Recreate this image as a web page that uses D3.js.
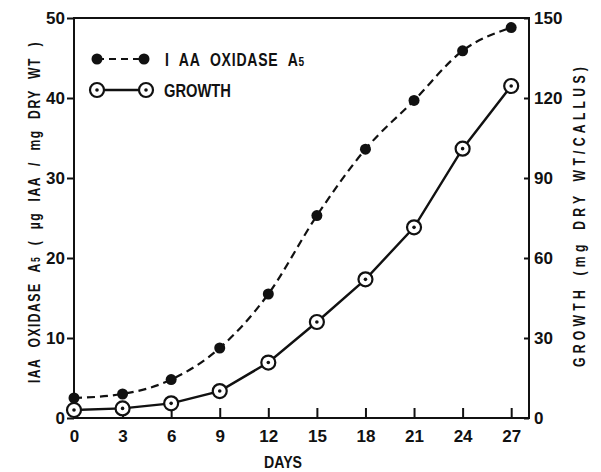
<!DOCTYPE html>
<html>
<head>
<meta charset="utf-8">
<script src="https://cdn.jsdelivr.net/npm/d3@7"></script>
<style>
  body { margin: 0; background: #fff; }
  text { font-family: "Liberation Sans", Arial, sans-serif; font-weight: bold; fill: #111; }
</style>
</head>
<body>
<svg width="601" height="472"></svg>
<script>
// data
const days = [0, 3, 6, 9, 12, 15, 18, 21, 24, 27];
const oxidase = [2.5, 3.0, 4.8, 8.75, 15.5, 25.3, 33.6, 39.7, 45.9, 48.8];   // left axis
const growth = [3.0, 3.6, 5.5, 10.1, 20.8, 36.0, 52.0, 71.5, 101, 124.5];    // right axis
const leftTicks = [0, 10, 20, 30, 40, 50];
const rightTicks = [0, 30, 60, 90, 120, 150];

const svg = d3.select('svg');
const ink = '#111';

// plot box
const x = d3.scaleLinear().domain([0, 28.1]).range([74, 529]);
const yL = d3.scaleLinear().domain([0, 50]).range([418, 18]);
const yR = d3.scaleLinear().domain([0, 150]).range([418, 18]);

// frame
svg.append('rect')
  .attr('x', 74).attr('y', 18)
  .attr('width', 455).attr('height', 400)
  .attr('fill', 'none').attr('stroke', ink).attr('stroke-width', 2);

// axes
const xAxis = svg.append('g')
  .attr('transform', 'translate(0,418)')
  .call(d3.axisBottom(x).tickValues(days).tickSize(-10).tickPadding(12));

const lAxis = svg.append('g')
  .attr('transform', 'translate(74,0)')
  .call(d3.axisLeft(yL).tickValues(leftTicks).tickSize(7).tickPadding(2));

const rAxis = svg.append('g')
  .attr('transform', 'translate(529,0)')
  .call(d3.axisRight(yR).tickValues(rightTicks).tickSize(-5).tickPadding(5));

[xAxis, lAxis, rAxis].forEach(a => {
  a.select('.domain').remove();
  a.selectAll('line').attr('stroke', ink).attr('stroke-width', 2);
  a.selectAll('text').style('font-size', '17px')
    .style('font-family', '"Liberation Sans", Arial, sans-serif')
    .style('font-weight', 'bold').attr('fill', ink);
});

// lines: dashed one smooth, growth drawn point to point
const lineL = d3.line().x((d, i) => x(days[i])).y(d => yL(d)).curve(d3.curveMonotoneX);
const lineR = d3.line().x((d, i) => x(days[i])).y(d => yR(d));

svg.append('path')
  .attr('d', lineL(oxidase))
  .attr('fill', 'none').attr('stroke', ink).attr('stroke-width', 2.2)
  .attr('stroke-dasharray', '8,5');

svg.append('path')
  .attr('d', lineR(growth))
  .attr('fill', 'none').attr('stroke', ink).attr('stroke-width', 2.4);

// markers
function filledDot(g, cx, cy) {
  g.append('circle').attr('cx', cx).attr('cy', cy).attr('r', 5.5).attr('fill', ink);
}
function ringDot(g, cx, cy) {
  g.append('circle').attr('cx', cx).attr('cy', cy).attr('r', 7)
    .attr('fill', '#fff').attr('stroke', ink).attr('stroke-width', 2.2);
  g.append('circle').attr('cx', cx).attr('cy', cy).attr('r', 1.8).attr('fill', ink);
}

const marks = svg.append('g');
oxidase.forEach((v, i) => filledDot(marks, x(days[i]), yL(v)));
growth.forEach((v, i) => ringDot(marks, x(days[i]), yR(v)));

// narrow lettering: squeeze the glyphs, put the slack into the gaps
function narrowText(place, size, squeeze, anchor, tracking) {
  return svg.append('g').attr('transform', place)
    .append('text')
      .attr('transform', `scale(${squeeze},1)`)
      .attr('text-anchor', anchor)
      .style('letter-spacing', (tracking || 0) + 'px')
      .style('font-size', size + 'px');
}
function fitWords(t, len, squeeze) {
  const natural = t.node().getComputedTextLength();
  const gaps = (t.node().textContent.match(/ /g) || []).length;
  if (gaps) t.style('word-spacing', ((len / squeeze - natural) / gaps) + 'px');
}
function fitLetters(t, len, squeeze) {
  const natural = t.node().getComputedTextLength();
  const n = t.node().textContent.length - 1;
  t.style('letter-spacing', ((len / squeeze - natural) / n) + 'px');
}
function fitWord(t, len) {
  const natural = t.node().getComputedTextLength();
  t.attr('transform', `scale(${len / natural},1)`);
}

// legend
const leg = svg.append('g');
leg.append('line').attr('x1', 97).attr('x2', 144).attr('y1', 59).attr('y2', 59)
  .attr('stroke', ink).attr('stroke-width', 2.2).attr('stroke-dasharray', '7,5');
filledDot(leg, 97, 59);
filledDot(leg, 144, 59);
const t1 = narrowText('translate(165,66)', 18, 0.78, 'start', 1);
t1.append('tspan').text('I AA OXIDASE A');
t1.append('tspan').style('font-size', '13px').text('5');
fitWords(t1, 140, 0.78);

leg.append('line').attr('x1', 97).attr('x2', 146).attr('y1', 90).attr('y2', 90)
  .attr('stroke', ink).attr('stroke-width', 2.4);
ringDot(leg, 97, 90);
ringDot(leg, 146, 90);
fitWord(narrowText('translate(164,97)', 18, 1, 'start').text('GROWTH'), 67);

// axis titles
const yt = narrowText('translate(40,212) rotate(-90)', 17, 0.72, 'middle', 2);
yt.append('tspan').text('IAA OXIDASE A');
yt.append('tspan').style('font-size', '12px').text('5');
yt.append('tspan').text(' ( \u00b5g IAA / mg DRY WT )');
fitWords(yt, 342, 0.72);

const rt = narrowText('translate(585,215) rotate(-90)', 17, 0.72, 'middle')
  .style('word-spacing', '4px')
  .text('GROWTH (mg DRY WT/CALLUS)');
fitLetters(rt, 300, 0.72);

fitWord(narrowText('translate(283,468)', 17, 1, 'middle').text('DAYS'), 38);
</script>
</body>
</html>
